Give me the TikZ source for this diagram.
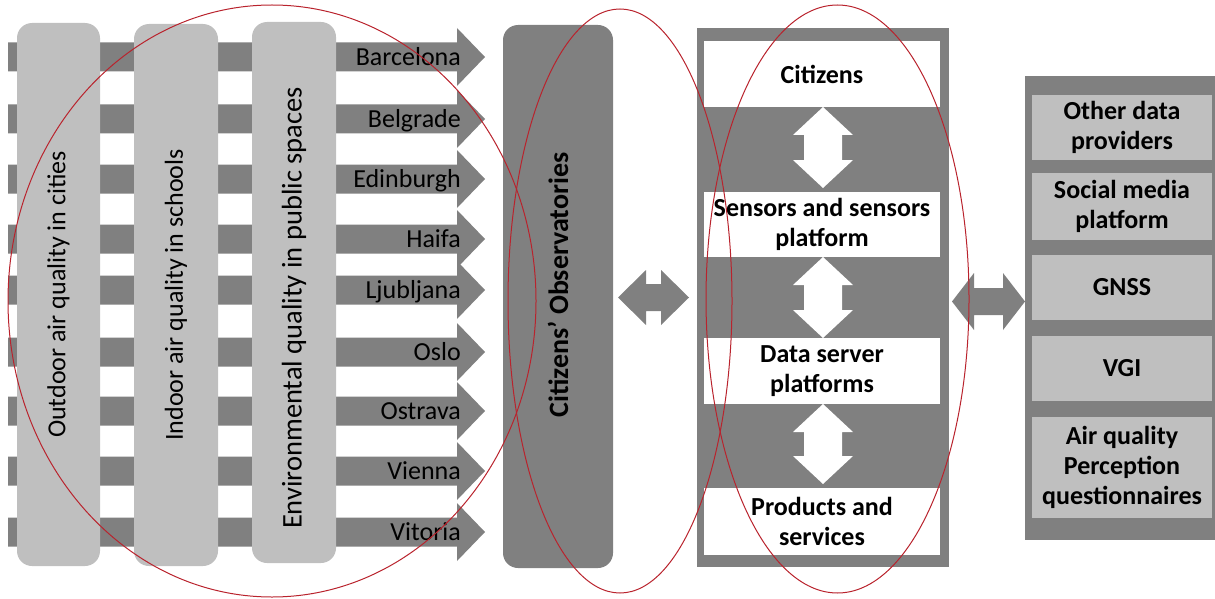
\documentclass[tikz,border=0pt]{standalone}
\usepackage{fontspec}
\setmainfont{Carlito}
\definecolor{dgray}{RGB}{128,128,128}
\definecolor{lgray}{RGB}{191,191,191}
\definecolor{ellred}{RGB}{185,35,45}
\begin{document}
\begin{tikzpicture}[x=1pt,y=-1pt,
  lbox/.style={fill=lgray, rounded corners=15pt, inner sep=0pt, font=\fontsize{26}{30}\selectfont},
  obsbox/.style={fill=dgray, rounded corners=15pt, inner sep=0pt},
  obstext/.style={inner sep=0pt, font=\fontsize{28}{32}\selectfont\bfseries},
  panel/.style={fill=dgray, inner sep=0pt},
  wbox/.style={fill=white, inner sep=0pt, minimum width=236pt, align=center, font=\fontsize{26}{30}\selectfont\bfseries},
  gbox/.style={fill=lgray, inner sep=0pt, minimum width=180pt, align=center, font=\fontsize{26}{30}\selectfont\bfseries},
  citylab/.style={inner sep=0pt, font=\fontsize{26}{30}\selectfont},
  ring/.style={draw=ellred, line width=1pt},
  blockarrow/.style={fill=dgray},
  whitearrow/.style={fill=white},
]
\useasboundingbox (0,0) rectangle (1215,599);

% city arrows
\foreach \yy/\nm in {57/r1,119/r2,179/r3,239/r4,290/r5,352/r6,411/r7,471/r8,532/r9}{
  \fill[blockarrow] (8,\yy-14.5) -- (457,\yy-14.5) -- (457,\yy-29) -- (485,\yy)
     -- (457,\yy+29) -- (457,\yy+14.5) -- (8,\yy+14.5) -- cycle;
  \coordinate (\nm-tip) at (485,\yy);
}

% vertical theme boxes
\node[lbox, rotate=90, minimum width=543pt, minimum height=83pt] (theme1) at (58.5,294.5) {Outdoor air quality in cities};
\node[lbox, rotate=90, minimum width=542pt, minimum height=84pt] (theme2) at (176,295) {Indoor air quality in schools};
\node[lbox, rotate=90, minimum width=541pt, minimum height=84pt, font=\fontsize{28.5}{32}\selectfont] (theme3) at (294,292.5) {};
\node[rotate=90, inner sep=0pt, font=\fontsize{28.5}{32}\selectfont] (theme3-text) at (294,308) {Environmental quality in public spaces};

% city labels
\foreach \yy/\nm/\lab in {57/r1/Barcelona,119/r2/Belgrade,179/r3/Edinburgh,239/r4/Haifa,290/r5/Ljubljana,352/r6/Oslo,411/r7/Ostrava,471/r8/Vienna,532/r9/Vitoria}{
  \node[citylab, anchor=base east] (\nm-lab) at (461,\yy+8.5) {\lab};
}

% Citizens' Observatories
\node[obsbox, minimum width=110pt, minimum height=543pt] (obs) at (558,296.5) {};
\node[obstext, rotate=90] (obs-text) at (558,285) {Citizens’ Observatories};

% left double arrow
\fill[blockarrow] (618,297.5) -- (646,270) -- (646,284) -- (661,284) -- (661,270) -- (689,297.5)
  -- (661,325) -- (661,311) -- (646,311) -- (646,325) -- cycle;

% middle panel
\node[panel, minimum width=252pt, minimum height=539pt] (mid) at (823,297.5) {};
\node[wbox, minimum height=66pt] (cit) at (822,74) {Citizens};
\node[wbox, minimum height=65pt] (sens) at (822,224.5) {Sensors and sensors\\platform};
\node[wbox, minimum height=66pt] (serv) at (822,371) {Data server\\platforms};
\node[wbox, minimum height=67pt] (prod) at (822,521.5) {Products and\\services};

% white vertical double arrows
\foreach \ya/\yb in {107/188, 257/338, 404/484}{
  \fill[whitearrow] (823,\ya) -- (853,\ya+28) -- (842,\ya+28) -- (842,\yb-28) -- (853,\yb-28)
    -- (823,\yb) -- (793,\yb-28) -- (804,\yb-28) -- (804,\ya+28) -- (793,\ya+28) -- cycle;
}

% right double arrow
\fill[blockarrow] (952,301.5) -- (974,273) -- (974,288) -- (1003,288) -- (1003,273) -- (1025,301.5)
  -- (1003,330) -- (1003,315) -- (974,315) -- (974,330) -- cycle;

% right panel
\node[panel, minimum width=190pt, minimum height=464pt] (right) at (1120,308) {};
\node[gbox, minimum height=65pt] (other) at (1122,127.5) {Other data\\providers};
\node[gbox, minimum height=67pt] (social) at (1122,206.5) {Social media\\platform};
\node[gbox, minimum height=65pt] (gnss) at (1122,287.5) {GNSS};
\node[gbox, minimum height=65pt] (vgi) at (1122,368.5) {VGI};
\node[gbox, minimum height=101pt] (aq) at (1122,467.5) {Air quality\\Perception\\questionnaires};

% red ellipses
\draw[ring] (272,301) ellipse [x radius=264, y radius=296];
\draw[ring] (620,301) ellipse [x radius=112, y radius=292];
\draw[ring] (837.5,299) ellipse [x radius=131.5, y radius=294];
\end{tikzpicture}
\end{document}
